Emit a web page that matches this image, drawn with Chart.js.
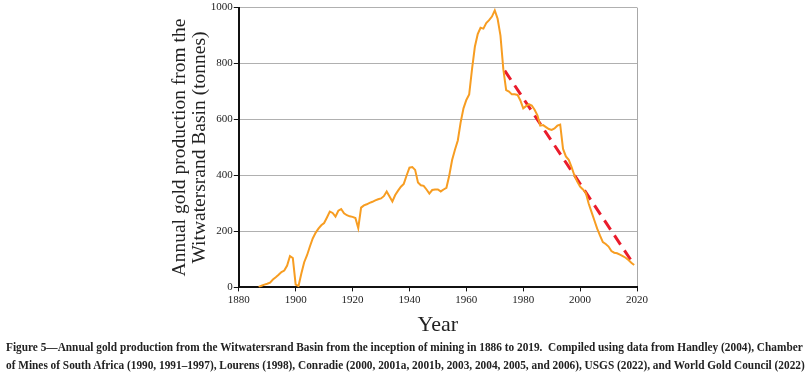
<!DOCTYPE html>
<html>
<head>
<meta charset="utf-8">
<script src="https://cdn.jsdelivr.net/npm/chart.js@4.4.1/dist/chart.umd.min.js"></script>
<style>
  body { margin: 0; background: #fff; width: 810px; height: 380px; overflow: hidden; position: relative; }
  #wrap { position: absolute; left: 0; top: 0; width: 810px; height: 345px; }
  #caption {
    position: absolute; left: 6px; top: 338px; width: 884px;
    font-family: "Liberation Serif", serif; font-weight: bold; font-size: 12.5px;
    line-height: 18px; color: #222;
    transform: scaleX(0.905); transform-origin: left top;
  }
</style>
</head>
<body>
<div id="wrap"><canvas id="goldChart" width="810" height="345"></canvas></div>
<div id="caption">Figure 5—Annual gold production from the Witwatersrand Basin from the inception of mining in 1886 to 2019.&nbsp; Compiled using data from Handley (2004), Chamber of Mines of South Africa (1990, 1991–1997), Lourens (1998), Conradie (2000, 2001a, 2001b, 2003, 2004, 2005, and 2006), USGS (2022), and World Gold Council (2022)</div>
<script>
// 연도 (1887 ~ 2019)
var years = [];
for (var y = 1887; y <= 2019; y++) years.push(y);

// 연간 금 생산량 (tonnes), 그림에서 읽은 값
var production = [
  2, 6, 10, 13, 17, 28, 36, 45, 55, 60, 78, 112, 105,          // 1887-1899
  10, 5, 50, 90, 115, 146, 175, 195, 210, 222,                  // 1900-1909
  230, 250, 271, 266, 253, 274, 280, 265, 258, 254,             // 1910-1919
  252, 248, 212, 285, 293, 297, 302, 306, 311, 315,             // 1920-1929
  318, 326, 343, 325, 307, 330, 346, 360, 370, 400,             // 1930-1939
  428, 430, 420, 375, 365, 363, 350, 335, 348, 350,             // 1940-1949
  350, 343, 350, 356, 400, 455, 492, 525, 590, 640,             // 1950-1959
  670, 690, 780, 860, 905, 928, 925, 945, 955, 968,             // 1960-1969
  990, 960, 900, 780, 705, 700, 690, 690, 688, 668,             // 1970-1979
  640, 648, 655, 650, 635, 615, 578, 580, 573, 566,             // 1980-1989
  563, 568, 578, 582, 495, 468, 456, 430, 400, 378,             // 1990-1999
  360, 350, 338, 300, 270, 240, 210, 185, 162, 155,             // 2000-2009
  146, 130, 124, 122, 117, 112, 106, 98, 88, 80                 // 2010-2019
];

// 감소 추세선 (빨간 점선)
var trendYears = [1973.5, 2019];
var trendValues = [775, 80];

// 축 눈금
var xTicks = [1880, 1900, 1920, 1940, 1960, 1980, 2000, 2020];
var yTicks = [0, 200, 400, 600, 800, 1000];

var serif = '"Liberation Serif", "Times New Roman", serif';

var ctx = document.getElementById('goldChart').getContext('2d');
var chart = new Chart(ctx, {
  type: 'line',
  data: {
    datasets: [{
      data: years.map(function(yr, i) { return { x: yr, y: production[i] }; }),
      borderColor: '#f79d22',
      borderWidth: 2,
      pointRadius: 0,
      tension: 0
    }, {
      data: trendYears.map(function(yr, i) { return { x: yr, y: trendValues[i] }; }),
      borderColor: '#ea1c2c',
      borderWidth: 3,
      borderDash: [11, 7],
      pointRadius: 0
    }]
  },
  options: {
    responsive: false,
    animation: false,
    layout: { padding: { left: 170, right: 173, top: 2, bottom: 7 } },
    plugins: { legend: { display: false }, tooltip: { enabled: false } },
    scales: {
      x: {
        type: 'linear',
        min: 1880, max: 2020,
        afterBuildTicks: function(axis) { axis.ticks = xTicks.map(function(v) { return { value: v }; }); },
        ticks: {
          color: '#222', font: { family: serif, size: 11 }, padding: 2, maxRotation: 0,
          callback: function(v) { return String(v); }
        },
        grid: {
          color: function(c) { return c.tick && c.tick.value === 2020 ? '#a8a8a8' : 'rgba(0,0,0,0)'; },
          tickColor: '#111',
          tickLength: 4
        },
        border: { color: '#111', width: 2 },
        title: { display: true, text: 'Year', color: '#222', font: { family: serif, size: 22 }, padding: { top: 3, bottom: 0 } }
      },
      y: {
        min: 0, max: 1000,
        afterBuildTicks: function(axis) { axis.ticks = yTicks.map(function(v) { return { value: v }; }); },
        ticks: {
          color: '#222', font: { family: serif, size: 11 }, padding: 1,
          callback: function(v) { return String(v); }
        },
        grid: { color: '#b0b0b0', tickColor: '#111', tickLength: 5 },
        border: { color: '#111', width: 2 },
        title: {
          display: true,
          text: ['Annual gold production from the', 'Witwatersrand Basin (tonnes)'],
          color: '#222',
          font: { family: serif, size: 19.5, lineHeight: 1.02 },
          padding: { top: 0, bottom: 0 }
        }
      }
    }
  }
});
</script>
</body>
</html>
